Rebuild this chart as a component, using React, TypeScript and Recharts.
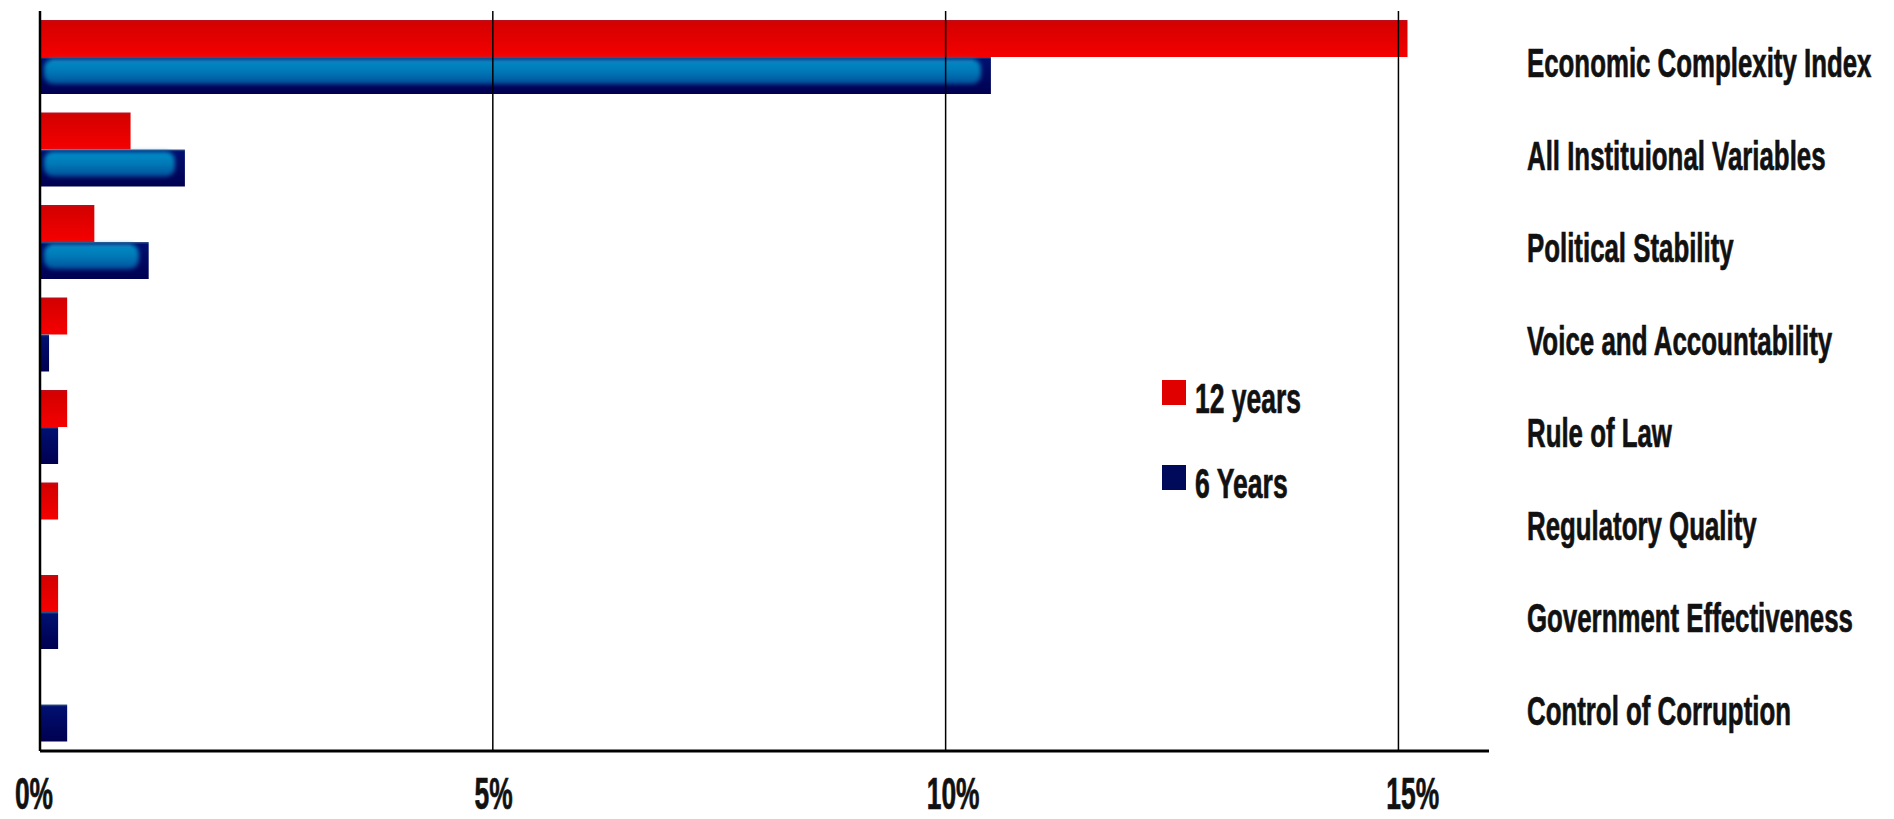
import { BarChart, Bar, XAxis, YAxis, Legend, ReferenceLine } from "recharts";

const categories = [
  "Economic Complexity Index",
  "All Instituional Variables",
  "Political Stability",
  "Voice and Accountability",
  "Rule of Law",
  "Regulatory Quality",
  "Government Effectiveness",
  "Control of Corruption",
];
const years12 = [15.1, 1.0, 0.6, 0.3, 0.3, 0.2, 0.2, 0];
const years6 = [10.5, 1.6, 1.2, 0.1, 0.2, 0, 0.2, 0.3];
const xTicks = [0, 5, 10, 15];

const FONT = "'Liberation Sans', Arial, sans-serif";
const SQUEEZE = 0.63;

const data = categories.map((name, i) => ({ name, y12: years12[i], y6: years6[i] }));

// the original uses a very condensed face; squeeze a bold sans to the same width
const ctx = typeof document !== "undefined" ? document.createElement("canvas").getContext("2d") : null;
function squeezedWidth(text: string, size: number, factor = SQUEEZE) {
  if (!ctx) return text.length * size * 0.35;
  ctx.font = `bold ${size}px 'Liberation Sans', Arial, sans-serif`;
  return ctx.measureText(text).width * factor;
}

function CondensedText({ x, y, text, size, anchor = "start", factor = SQUEEZE }: any) {
  const w = squeezedWidth(text, size, factor);
  const left = anchor === "middle" ? x - w / 2 : x;
  return (
    <text
      x={left}
      y={y}
      textLength={w}
      lengthAdjust="spacingAndGlyphs"
      fontFamily={FONT}
      fontWeight="bold"
      fontSize={size}
      fill="#111"
      stroke="#111"
      strokeWidth={0.7}
    >
      {text}
    </text>
  );
}

function CategoryTick({ x, y, payload }: any) {
  return <CondensedText x={x} y={y + 20} text={payload.value} size={41} />;
}

function PercentTick({ x, y, payload }: any) {
  // labels drift slightly right of their gridline in the original
  const dx = -6 + payload.value * 1.35;
  return <CondensedText x={x + dx} y={y + 58} text={`${payload.value}%`} size={44} anchor="middle" factor={0.6} />;
}

function BlueBar({ x, y, width, height }: any) {
  if (!width || width <= 0) return null;
  return (
    <g>
      <rect x={x} y={y} width={width} height={height} fill="url(#navyGrad)" />
      {width > 40 && (
        <rect
          x={x + 4}
          y={y + 2}
          width={width - 14}
          height={height - 12}
          rx={9}
          fill="url(#cyanGrad)"
          filter="url(#soft)"
        />
      )}
    </g>
  );
}

const legendColors: Record<string, string> = { y12: "#e00000", y6: "#000a5a" };
const legendNames: Record<string, string> = { y12: "12 years", y6: "6 Years" };

function LegendBox() {
  const items = ["y12", "y6"];
  return (
    <svg width={300} height={150}>
      {items.map((k, i) => (
        <g key={k}>
          <rect x={2} y={2 + i * 85} width={24} height={25} fill={legendColors[k]} />
          <CondensedText x={35} y={35 + i * 85} text={legendNames[k]} size={42} />
        </g>
      ))}
    </svg>
  );
}

export default function App() {
  return (
    <div style={{ position: "absolute", left: 0, top: 0, background: "#fff" }}>
      <BarChart
        width={1894}
        height={819}
        data={data}
        layout="vertical"
        margin={{ top: 11, right: 0, bottom: 0, left: 40 }}
        barGap={0}
        barSize={37}
      >
        <defs>
          <linearGradient id="redGrad" x1="0" y1="0" x2="0" y2="1">
            <stop offset="0" stopColor="#b81020" />
            <stop offset="0.07" stopColor="#d40000" />
            <stop offset="1" stopColor="#f60000" />
          </linearGradient>
          <linearGradient id="navyGrad" x1="0" y1="0" x2="0" y2="1">
            <stop offset="0" stopColor="#3a5a8a" />
            <stop offset="0.06" stopColor="#001070" />
            <stop offset="1" stopColor="#000050" />
          </linearGradient>
          <linearGradient id="cyanGrad" x1="0" y1="0" x2="0" y2="1">
            <stop offset="0" stopColor="#0a8ec8" />
            <stop offset="0.5" stopColor="#0078b6" />
            <stop offset="1" stopColor="#00509c" />
          </linearGradient>
          <filter id="soft" x="-5%" y="-20%" width="110%" height="140%">
            <feGaussianBlur stdDeviation="2" />
          </filter>
        </defs>
        <XAxis
          type="number"
          domain={[0, 16]}
          ticks={xTicks}
          height={68}
          axisLine={{ stroke: "#000", strokeWidth: 3 }}
          tickLine={false}
          tickSize={0}
          tickMargin={0}
          tick={<PercentTick />}
        />
        <YAxis
          type="category"
          dataKey="name"
          orientation="right"
          width={405}
          axisLine={false}
          tickLine={false}
          tickSize={0}
          tickMargin={38}
          tick={<CategoryTick />}
          interval={0}
        />
        {xTicks.map((v) => (
          <ReferenceLine key={v} x={v} stroke="#000" strokeWidth={v === 0 ? 2.5 : 1.5} />
        ))}
        <Bar dataKey="y12" name="12 years" fill="url(#redGrad)" isAnimationActive={false} />
        <Bar dataKey="y6" name="6 Years" fill="#000a5a" shape={<BlueBar />} isAnimationActive={false} />
        <Legend
          layout="horizontal"
          verticalAlign="middle"
          align="center"
          content={<LegendBox />}
          wrapperStyle={{ position: "absolute", left: 1160, top: 378, width: 300, height: 150 }}
        />
      </BarChart>
    </div>
  );
}
